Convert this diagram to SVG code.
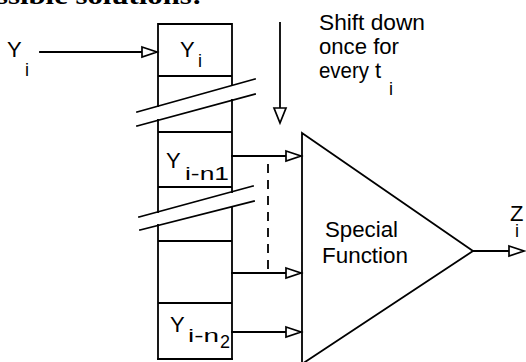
<svg xmlns="http://www.w3.org/2000/svg" width="526" height="362" viewBox="0 0 526 362">
<style>
.ln{stroke:#000;stroke-width:1.8;fill:none;stroke-linecap:square}
.ah{stroke:#000;stroke-width:1.7;fill:#fff;stroke-linejoin:miter}
.t{font-family:"Liberation Sans",Arial,sans-serif;fill:#000}
.big{font-size:22px}
.sub{font-size:18px}
.dash{stroke:#000;stroke-width:1.8;fill:none;stroke-dasharray:9 7}
</style>
<rect width="526" height="362" fill="#fff"/>
<text x="-4" y="4" font-family="'Liberation Serif',serif" font-size="25" font-weight="bold" textLength="206" lengthAdjust="spacingAndGlyphs">ssible solutions:</text>

<g id="register">
  <g id="cell-yi">
    <path class="ln" d="M158,24 H232 M158,24 V106 M232,24 V85 M158,76 H232"/>
    <text class="t big" x="180" y="57">Y</text>
    <text class="t sub" x="198" y="67">i</text>
  </g>
  <g id="break-1">
    <path class="ln" d="M137,112 L255,79 M137,126 L255,94"/>
  </g>
  <g id="cell-yin1">
    <path class="ln" d="M158,120 V212 M232,100 V192 M158,132 H232 M158,187 H232"/>
    <text class="t big" x="166" y="168">Y</text>
    <text class="t sub" x="185" y="180" textLength="44" lengthAdjust="spacingAndGlyphs">i-n1</text>
  </g>
  <g id="break-2">
    <path class="ln" d="M139,217 L253,186 M140,230 L254,201"/>
  </g>
  <g id="cell-empty">
    <path class="ln" d="M158,225 V359 M232,207 V359 M158,241 H232 M158,303 H232"/>
  </g>
  <g id="cell-yin2">
    <path class="ln" d="M158,359 H232"/>
    <text class="t big" x="170" y="332">Y</text>
    <text class="t sub" x="188" y="342" textLength="31" lengthAdjust="spacingAndGlyphs">i-n</text>
    <text class="t sub" x="220" y="348">2</text>
  </g>
</g>

<g id="special-function">
  <polygon class="ln" points="302,133 473,251 302,364"/>
  <text class="t big" x="325" y="237" textLength="73" lengthAdjust="spacingAndGlyphs">Special</text>
  <text class="t big" x="322" y="263" textLength="86" lengthAdjust="spacingAndGlyphs">Function</text>
</g>

<g id="label-yi-in">
  <text class="t big" x="7" y="57">Y</text>
  <text class="t sub" x="25" y="76">i</text>
</g>

<g id="label-shift">
  <text class="t big" x="319" y="30" textLength="106" lengthAdjust="spacingAndGlyphs">Shift down</text>
  <text class="t big" x="319" y="54" textLength="80" lengthAdjust="spacingAndGlyphs">once for</text>
  <text class="t big" x="319" y="78" textLength="50" lengthAdjust="spacingAndGlyphs">every</text>
  <text class="t big" x="375" y="78">t</text>
  <text class="t sub" x="389" y="95">i</text>
</g>

<g id="label-zi">
  <text class="t big" x="510" y="221">Z</text>
  <text class="t sub" x="515" y="237">i</text>
</g>

<g id="connectors">
  <path class="ln" d="M40,52 H142"/>
  <polygon class="ah" points="142,47 157,52 142,57"/>
  <path class="ln" d="M280,23 V108"/>
  <polygon class="ah" points="274,108 286,108 280,123"/>
  <path class="ln" d="M232,156 H286"/>
  <polygon class="ah" points="286,151 301,156 286,161"/>
  <path class="ln" d="M232,273 H286"/>
  <polygon class="ah" points="286,268 301,273 286,278"/>
  <path class="ln" d="M232,332 H286"/>
  <polygon class="ah" points="286,327 301,332 286,337"/>
  <path class="dash" d="M268,164 V272"/>
  <path class="ln" d="M473,251 H509"/>
  <polygon class="ah" points="509,246 524,251 509,256"/>
</g>
</svg>
